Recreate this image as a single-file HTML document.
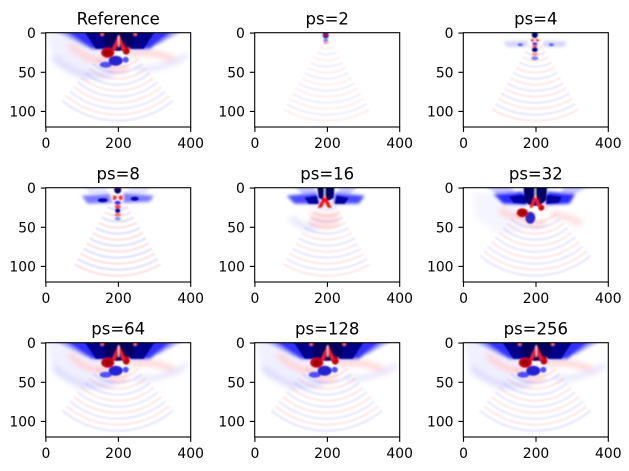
<!DOCTYPE html>
<html><head><meta charset="utf-8">
<style>
html,body{margin:0;padding:0;background:#fff;}
svg{display:block;}
text{font-family:"DejaVu Sans","Liberation Sans",sans-serif;fill:#000;}
.tk{font-size:13.9px;}
.ti{font-size:16.5px;}
</style></head><body>
<svg width="629" height="471" viewBox="0 0 629 471" xmlns="http://www.w3.org/2000/svg">
<defs>
 <clipPath id="cp"><rect x="0" y="0" width="145" height="94.3"/></clipPath>
 <filter id="b3" x="-40%" y="-40%" width="180%" height="180%"><feGaussianBlur stdDeviation="3"/></filter>
 <filter id="b15" x="-40%" y="-40%" width="180%" height="180%"><feGaussianBlur stdDeviation="1.5"/></filter>
 <filter id="b08" x="-40%" y="-40%" width="180%" height="180%"><feGaussianBlur stdDeviation="0.8"/></filter>
 <filter id="b06" x="-20%" y="-20%" width="140%" height="140%"><feGaussianBlur stdDeviation="0.8"/></filter>

 <g id="arcs" filter="url(#b06)" fill="none" stroke-width="2">
  <path stroke="#ff6060" d="M65,14.1 A14,14 0 0 0 79,14.1"/>
  <path stroke="#6060ff" d="M62,19.3 A20,20 0 0 0 82,19.3"/>
  <path stroke="#ff6060" d="M59,24.5 A26,26 0 0 0 85,24.5"/>
  <path stroke="#6060ff" d="M56,29.7 A32,32 0 0 0 88,29.7"/>
  <path stroke="#ff6060" d="M53,34.9 A38,38 0 0 0 91,34.9"/>
  <path stroke="#6060ff" d="M50,40.1 A44,44 0 0 0 94,40.1"/>
  <path stroke="#ff6060" d="M47,45.3 A50,50 0 0 0 97,45.3"/>
  <path stroke="#6060ff" d="M44,50.5 A56,56 0 0 0 100,50.5"/>
  <path stroke="#ff6060" d="M41,55.7 A62,62 0 0 0 103,55.7"/>
  <path stroke="#6060ff" d="M38,60.9 A68,68 0 0 0 106,60.9"/>
  <path stroke="#ff6060" d="M35,66.1 A74,74 0 0 0 109,66.1"/>
  <path stroke="#6060ff" d="M32,71.3 A80,80 0 0 0 112,71.3"/>
  <path stroke="#ff6060" d="M29,76.5 A86,86 0 0 0 115,76.5"/>
 </g>

 <g id="arcsW" filter="url(#b06)" fill="none" stroke-width="2.5">
  <path stroke="#ff6060" d="M51.4,26.5 A32,32 0 0 0 92.6,26.5"/>
  <path stroke="#6060ff" d="M47.6,31.1 A38,38 0 0 0 96.4,31.1"/>
  <path stroke="#ff6060" d="M43.7,35.7 A44,44 0 0 0 100.3,35.7"/>
  <path stroke="#6060ff" d="M39.9,40.3 A50,50 0 0 0 104.1,40.3"/>
  <path stroke="#ff6060" d="M36,44.9 A56,56 0 0 0 108,44.9"/>
  <path stroke="#6060ff" d="M32.1,49.5 A62,62 0 0 0 111.9,49.5"/>
  <path stroke="#ff6060" d="M28.3,54.1 A68,68 0 0 0 115.7,54.1"/>
  <path stroke="#6060ff" d="M24.4,58.7 A74,74 0 0 0 119.6,58.7"/>
  <path stroke="#ff6060" d="M20.6,63.3 A80,80 0 0 0 123.4,63.3"/>
  <path stroke="#6060ff" d="M16.7,67.9 A86,86 0 0 0 127.3,67.9"/>
 </g>

 <g id="full">
  <g filter="url(#b3)">
   <path d="M0,-5 L42,-5 L68,26 L62,44 L36,48 L8,32 Z" fill="#f0f0ff"/>
   <path d="M24,12 Q44,32 64,26" stroke="#ffcfcf" stroke-width="6" fill="none"/>
   <path d="M8,24 Q36,50 68,40" stroke="#dcdcff" stroke-width="6" fill="none"/>
   <path d="M84,22 Q108,16 134,30" stroke="#ffd4d4" stroke-width="6" fill="none"/>
   <path d="M90,36 Q116,38 142,22" stroke="#e4e4ff" stroke-width="5" fill="none"/>
   <path d="M62,34 Q72,42 82,34" stroke="#ffc4c4" stroke-width="4" fill="none"/>
  </g>
  <use href="#arcsW" opacity="0.13"/>
  <g filter="url(#b15)">
   <path d="M4,-5 L30,-5 L52,14 L40,14 Z" fill="#a4a4ff"/>
   <path d="M112,-5 L142,-5 L112,12 L100,12 Z" fill="#a4a4ff"/>
   <path d="M14,-5 L50,-5 L64,16 L46,16 Z" fill="#3030ff"/>
   <path d="M92,-5 L132,-5 L104,16 L84,16 Z" fill="#3030ff"/>
  </g>
  <g filter="url(#b08)">
   <path d="M36,-5 L58,-5 L64,16 L50,16 Z" fill="#00008a"/>
   <path d="M86,-5 L112,-5 L98,16 L84,16 Z" fill="#00008a"/>
   <path d="M57,-5 L89,-5 L88,10 Q81,19 73,18 Q64,19 58,12 Z" fill="#000060"/>
   <ellipse cx="60" cy="32" rx="6" ry="3" fill="#5050ff"/>
   <ellipse cx="70" cy="28" rx="7" ry="5" fill="#2020d0"/>
   <ellipse cx="80" cy="27" rx="3" ry="3" fill="#5050ff"/>
   <ellipse cx="62" cy="20" rx="6.5" ry="5" fill="#d00000"/>
   <ellipse cx="62" cy="20" rx="4" ry="3" fill="#a00000"/>
   <ellipse cx="80.5" cy="18" rx="3.5" ry="4" fill="#c80000"/>
   <path d="M73,2 L66,17 L69.5,17 L73,9 L76.5,17 L80,17 Z" fill="#ff1a1a"/>
   <path d="M73,3 L73,14" stroke="#fff" stroke-width="1"/>
   <rect x="55" y="-2" width="3" height="5" fill="#ff6060"/>
   <rect x="88" y="-2" width="3" height="5" fill="#ff6060"/>
  </g>
 </g>

 <g id="g32">
  <g filter="url(#b3)">
   <path d="M10,5 L42,5 L66,26 L60,44 L36,46 L12,30 Z" fill="#f5f5ff"/>
   <path d="M36,22 Q50,32 64,28" stroke="#ffd0d0" stroke-width="6" fill="none"/>
   <path d="M88,26 Q104,28 118,36" stroke="#ffd8d8" stroke-width="6" fill="none"/>
   <path d="M62,34 Q72,42 82,34" stroke="#ffc8c8" stroke-width="4" fill="none"/>
  </g>
  <use href="#arcsW" opacity="0.13"/>
  <g filter="url(#b15)">
   <path d="M16,-5 L44,-5 L60,14 L48,14 Z" fill="#c4c4ff"/>
   <path d="M104,-5 L132,-5 L100,12 L92,12 Z" fill="#c4c4ff"/>
   <path d="M30,6 L60,4 L64,17 L40,16 Z" fill="#2a2aff"/>
   <path d="M84,4 L112,6 L106,16 L82,17 Z" fill="#2a2aff"/>
  </g>
  <g filter="url(#b08)">
   <path d="M46,9 L60,7 L63,16 L50,15 Z" fill="#0000a0"/>
   <path d="M84,7 L98,9 L96,15 L83,16 Z" fill="#0000a0"/>
   <path d="M60,-5 L84,-5 L83,12 Q77,19 72,18 Q65,19 61,12 Z" fill="#000066"/>
   <ellipse cx="67" cy="30" rx="5" ry="6" fill="#2a2acc"/>
   <ellipse cx="59" cy="25" rx="5.5" ry="4.5" fill="#d00000"/>
   <ellipse cx="59" cy="25" rx="3.5" ry="3" fill="#a80000"/>
   <ellipse cx="78" cy="20" rx="3" ry="3" fill="#cc0000"/>
   <path d="M72,6 L66,20 L69,20 L72,13 L75,20 L78,20 Z" fill="#ff1a1a"/>
   <path d="M72,-2 L72,10" stroke="#fff" stroke-width="1"/>
  </g>
 </g>

 <g id="g16">
  <g filter="url(#b3)">
   <path d="M56,22 Q70,30 84,22 L84,38 Q70,44 56,38 Z" fill="#ffdede"/>
   <path d="M36,30 Q50,42 62,40" stroke="#e4e4ff" stroke-width="6" fill="none"/>
  </g>
  <use href="#arcs" opacity="0.15"/>
  <g filter="url(#b15)">
   <path d="M36,-5 L58,-5 L64,10 L52,10 Z" fill="#c4c4ff"/>
   <path d="M86,-5 L106,-5 L92,10 L82,10 Z" fill="#c4c4ff"/>
   <path d="M32,8 L62,5 L65,16 L40,16 Z" fill="#4a4aff"/>
   <path d="M80,5 L110,8 L104,16 L79,16 Z" fill="#4a4aff"/>
  </g>
  <g filter="url(#b08)">
   <path d="M50,10 L62,8 L64,16 L54,16 Z" fill="#0000a0"/>
   <path d="M82,8 L94,10 L90,16 L80,16 Z" fill="#0000a0"/>
   <path d="M62,-5 L80,-5 L79,10 Q72,16 64,10 Z" fill="#000066"/>
   <path d="M70,7 L63,20 L67,20 L70,14 L73,20 L77,20 Z" fill="#ff1010"/>
   <path d="M70,-2 L70,10" stroke="#fff" stroke-width="1"/>
  </g>
 </g>

 <g id="g8">
  <use href="#arcs" opacity="0.2"/>
  <g filter="url(#b15)">
   <path d="M36,8 L64,6 L66,15 L42,16 Z" fill="#7a7aff"/>
   <path d="M78,5 L108,8 L104,14 L78,15 Z" fill="#7a7aff"/>
   <path d="M36,-5 L60,-5 L62,6 L44,6 Z" fill="#e4e4ff"/>
   <path d="M84,-5 L108,-5 L100,6 L82,6 Z" fill="#e4e4ff"/>
  </g>
  <g filter="url(#b08)">
   <ellipse cx="57" cy="12.5" rx="5" ry="2" fill="#0000b0"/>
   <ellipse cx="89" cy="11" rx="4" ry="2" fill="#0000b0"/>
   <ellipse cx="72" cy="2" rx="3.5" ry="4" fill="#000070"/>
   <ellipse cx="72" cy="-1" rx="2" ry="1.5" fill="#ff0000"/>
   <ellipse cx="69" cy="10" rx="2" ry="2.5" fill="#ff3030"/>
   <ellipse cx="75" cy="10" rx="2" ry="2.5" fill="#ff3030"/>
   <ellipse cx="72" cy="15" rx="3" ry="2" fill="#3030ff"/>
   <ellipse cx="72" cy="19" rx="3" ry="1.8" fill="#ff4040"/>
   <ellipse cx="72" cy="23" rx="2.5" ry="2.5" fill="#0000a0"/>
   <ellipse cx="72" cy="27" rx="3" ry="1.8" fill="#ff7070"/>
   <ellipse cx="72" cy="31" rx="3" ry="1.8" fill="#9090ff"/>
  </g>
 </g>

 <g id="g4">
  <use href="#arcs" opacity="0.15"/>
  <g filter="url(#b15)">
   <path d="M40,9 L64,8 L64,14 L44,14 Z" fill="#d0d0ff"/>
   <path d="M80,8 L104,9 L100,14 L80,14 Z" fill="#d0d0ff"/>
  </g>
  <g filter="url(#b08)">
   <ellipse cx="57" cy="12" rx="2.5" ry="1.5" fill="#6060ff"/>
   <ellipse cx="88" cy="12" rx="2.5" ry="1.5" fill="#6060ff"/>
   <ellipse cx="71.5" cy="2" rx="3" ry="3.5" fill="#000080"/>
   <ellipse cx="69" cy="7.5" rx="1.5" ry="1.5" fill="#ff3030"/>
   <ellipse cx="74" cy="7.5" rx="1.5" ry="1.5" fill="#ff3030"/>
   <ellipse cx="71.5" cy="11" rx="2.5" ry="1.5" fill="#3030ff"/>
   <ellipse cx="71.5" cy="13.5" rx="2.5" ry="1.2" fill="#ff5050"/>
   <ellipse cx="71.5" cy="17" rx="2.8" ry="2.5" fill="#0000a0"/>
   <ellipse cx="71.5" cy="21.5" rx="3" ry="1.5" fill="#ff9090"/>
   <ellipse cx="71.5" cy="25.5" rx="3.5" ry="2" fill="#8080ff"/>
  </g>
 </g>

 <g id="g2">
  <use href="#arcs" opacity="0.1"/>
  <g filter="url(#b08)">
   <ellipse cx="71" cy="2.5" rx="3" ry="3.5" fill="#2020a0"/>
   <ellipse cx="71" cy="2" rx="1.5" ry="1.5" fill="#cc0000"/>
   <ellipse cx="71" cy="7.5" rx="2.5" ry="1.2" fill="#7070ff"/>
   <ellipse cx="71" cy="10" rx="2.5" ry="1.2" fill="#ff9090"/>
  </g>
 </g>

 <path id="tks" d="M0.2,94.3v4.9M72.7,94.3v4.9M145,94.3v4.9M0,0.4h-4.9M0,39.6h-4.9M0,78.7h-4.9" stroke="#000" stroke-width="1.1" fill="none"/>
</defs>

<rect width="629" height="471" fill="#fff"/>

<!-- Row 1 -->
<g transform="translate(45.7,32.7)">
 <g clip-path="url(#cp)"><rect width="145" height="94.3" fill="#fff"/><use href="#full"/></g>
 <rect width="145" height="94.3" fill="none" stroke="#000" stroke-width="1.1"/>
 <use href="#tks"/>
 <text class="tk" x="0.2" y="115.3" text-anchor="middle">0</text>
 <text class="tk" x="72.7" y="115.3" text-anchor="middle">200</text>
 <text class="tk" x="145" y="115.3" text-anchor="middle">400</text>
 <text class="tk" x="-9.8" y="5.4" text-anchor="end">0</text>
 <text class="tk" x="-9.8" y="44.6" text-anchor="end">50</text>
 <text class="tk" x="-9.8" y="83.7" text-anchor="end">100</text>
 <text class="ti" x="72.5" y="-8.3" text-anchor="middle">Reference</text>
</g>
<g transform="translate(254.7,32.7)">
 <g clip-path="url(#cp)"><rect width="145" height="94.3" fill="#fff"/><use href="#g2"/></g>
 <rect width="145" height="94.3" fill="none" stroke="#000" stroke-width="1.1"/>
 <use href="#tks"/>
 <text class="tk" x="0.2" y="115.3" text-anchor="middle">0</text>
 <text class="tk" x="72.7" y="115.3" text-anchor="middle">200</text>
 <text class="tk" x="145" y="115.3" text-anchor="middle">400</text>
 <text class="tk" x="-9.8" y="5.4" text-anchor="end">0</text>
 <text class="tk" x="-9.8" y="44.6" text-anchor="end">50</text>
 <text class="tk" x="-9.8" y="83.7" text-anchor="end">100</text>
 <text class="ti" x="72.5" y="-8.3" text-anchor="middle">ps=2</text>
</g>
<g transform="translate(463.3,32.7)">
 <g clip-path="url(#cp)"><rect width="145" height="94.3" fill="#fff"/><use href="#g4"/></g>
 <rect width="145" height="94.3" fill="none" stroke="#000" stroke-width="1.1"/>
 <use href="#tks"/>
 <text class="tk" x="0.2" y="115.3" text-anchor="middle">0</text>
 <text class="tk" x="72.7" y="115.3" text-anchor="middle">200</text>
 <text class="tk" x="145" y="115.3" text-anchor="middle">400</text>
 <text class="tk" x="-9.8" y="5.4" text-anchor="end">0</text>
 <text class="tk" x="-9.8" y="44.6" text-anchor="end">50</text>
 <text class="tk" x="-9.8" y="83.7" text-anchor="end">100</text>
 <text class="ti" x="72.5" y="-8.3" text-anchor="middle">ps=4</text>
</g>

<!-- Row 2 -->
<g transform="translate(45.7,187.7)">
 <g clip-path="url(#cp)"><rect width="145" height="94.3" fill="#fff"/><use href="#g8"/></g>
 <rect width="145" height="94.3" fill="none" stroke="#000" stroke-width="1.1"/>
 <use href="#tks"/>
 <text class="tk" x="0.2" y="115.3" text-anchor="middle">0</text>
 <text class="tk" x="72.7" y="115.3" text-anchor="middle">200</text>
 <text class="tk" x="145" y="115.3" text-anchor="middle">400</text>
 <text class="tk" x="-9.8" y="5.4" text-anchor="end">0</text>
 <text class="tk" x="-9.8" y="44.6" text-anchor="end">50</text>
 <text class="tk" x="-9.8" y="83.7" text-anchor="end">100</text>
 <text class="ti" x="72.5" y="-8.3" text-anchor="middle">ps=8</text>
</g>
<g transform="translate(254.7,187.7)">
 <g clip-path="url(#cp)"><rect width="145" height="94.3" fill="#fff"/><use href="#g16"/></g>
 <rect width="145" height="94.3" fill="none" stroke="#000" stroke-width="1.1"/>
 <use href="#tks"/>
 <text class="tk" x="0.2" y="115.3" text-anchor="middle">0</text>
 <text class="tk" x="72.7" y="115.3" text-anchor="middle">200</text>
 <text class="tk" x="145" y="115.3" text-anchor="middle">400</text>
 <text class="tk" x="-9.8" y="5.4" text-anchor="end">0</text>
 <text class="tk" x="-9.8" y="44.6" text-anchor="end">50</text>
 <text class="tk" x="-9.8" y="83.7" text-anchor="end">100</text>
 <text class="ti" x="72.5" y="-8.3" text-anchor="middle">ps=16</text>
</g>
<g transform="translate(463.3,187.7)">
 <g clip-path="url(#cp)"><rect width="145" height="94.3" fill="#fff"/><use href="#g32"/></g>
 <rect width="145" height="94.3" fill="none" stroke="#000" stroke-width="1.1"/>
 <use href="#tks"/>
 <text class="tk" x="0.2" y="115.3" text-anchor="middle">0</text>
 <text class="tk" x="72.7" y="115.3" text-anchor="middle">200</text>
 <text class="tk" x="145" y="115.3" text-anchor="middle">400</text>
 <text class="tk" x="-9.8" y="5.4" text-anchor="end">0</text>
 <text class="tk" x="-9.8" y="44.6" text-anchor="end">50</text>
 <text class="tk" x="-9.8" y="83.7" text-anchor="end">100</text>
 <text class="ti" x="72.5" y="-8.3" text-anchor="middle">ps=32</text>
</g>

<!-- Row 3 -->
<g transform="translate(45.7,342.7)">
 <g clip-path="url(#cp)"><rect width="145" height="94.3" fill="#fff"/><use href="#full"/></g>
 <rect width="145" height="94.3" fill="none" stroke="#000" stroke-width="1.1"/>
 <use href="#tks"/>
 <text class="tk" x="0.2" y="115.3" text-anchor="middle">0</text>
 <text class="tk" x="72.7" y="115.3" text-anchor="middle">200</text>
 <text class="tk" x="145" y="115.3" text-anchor="middle">400</text>
 <text class="tk" x="-9.8" y="5.4" text-anchor="end">0</text>
 <text class="tk" x="-9.8" y="44.6" text-anchor="end">50</text>
 <text class="tk" x="-9.8" y="83.7" text-anchor="end">100</text>
 <text class="ti" x="72.5" y="-8.3" text-anchor="middle">ps=64</text>
</g>
<g transform="translate(254.7,342.7)">
 <g clip-path="url(#cp)"><rect width="145" height="94.3" fill="#fff"/><use href="#full"/></g>
 <rect width="145" height="94.3" fill="none" stroke="#000" stroke-width="1.1"/>
 <use href="#tks"/>
 <text class="tk" x="0.2" y="115.3" text-anchor="middle">0</text>
 <text class="tk" x="72.7" y="115.3" text-anchor="middle">200</text>
 <text class="tk" x="145" y="115.3" text-anchor="middle">400</text>
 <text class="tk" x="-9.8" y="5.4" text-anchor="end">0</text>
 <text class="tk" x="-9.8" y="44.6" text-anchor="end">50</text>
 <text class="tk" x="-9.8" y="83.7" text-anchor="end">100</text>
 <text class="ti" x="72.5" y="-8.3" text-anchor="middle">ps=128</text>
</g>
<g transform="translate(463.3,342.7)">
 <g clip-path="url(#cp)"><rect width="145" height="94.3" fill="#fff"/><use href="#full"/></g>
 <rect width="145" height="94.3" fill="none" stroke="#000" stroke-width="1.1"/>
 <use href="#tks"/>
 <text class="tk" x="0.2" y="115.3" text-anchor="middle">0</text>
 <text class="tk" x="72.7" y="115.3" text-anchor="middle">200</text>
 <text class="tk" x="145" y="115.3" text-anchor="middle">400</text>
 <text class="tk" x="-9.8" y="5.4" text-anchor="end">0</text>
 <text class="tk" x="-9.8" y="44.6" text-anchor="end">50</text>
 <text class="tk" x="-9.8" y="83.7" text-anchor="end">100</text>
 <text class="ti" x="72.5" y="-8.3" text-anchor="middle">ps=256</text>
</g>
</svg>
</body></html>
